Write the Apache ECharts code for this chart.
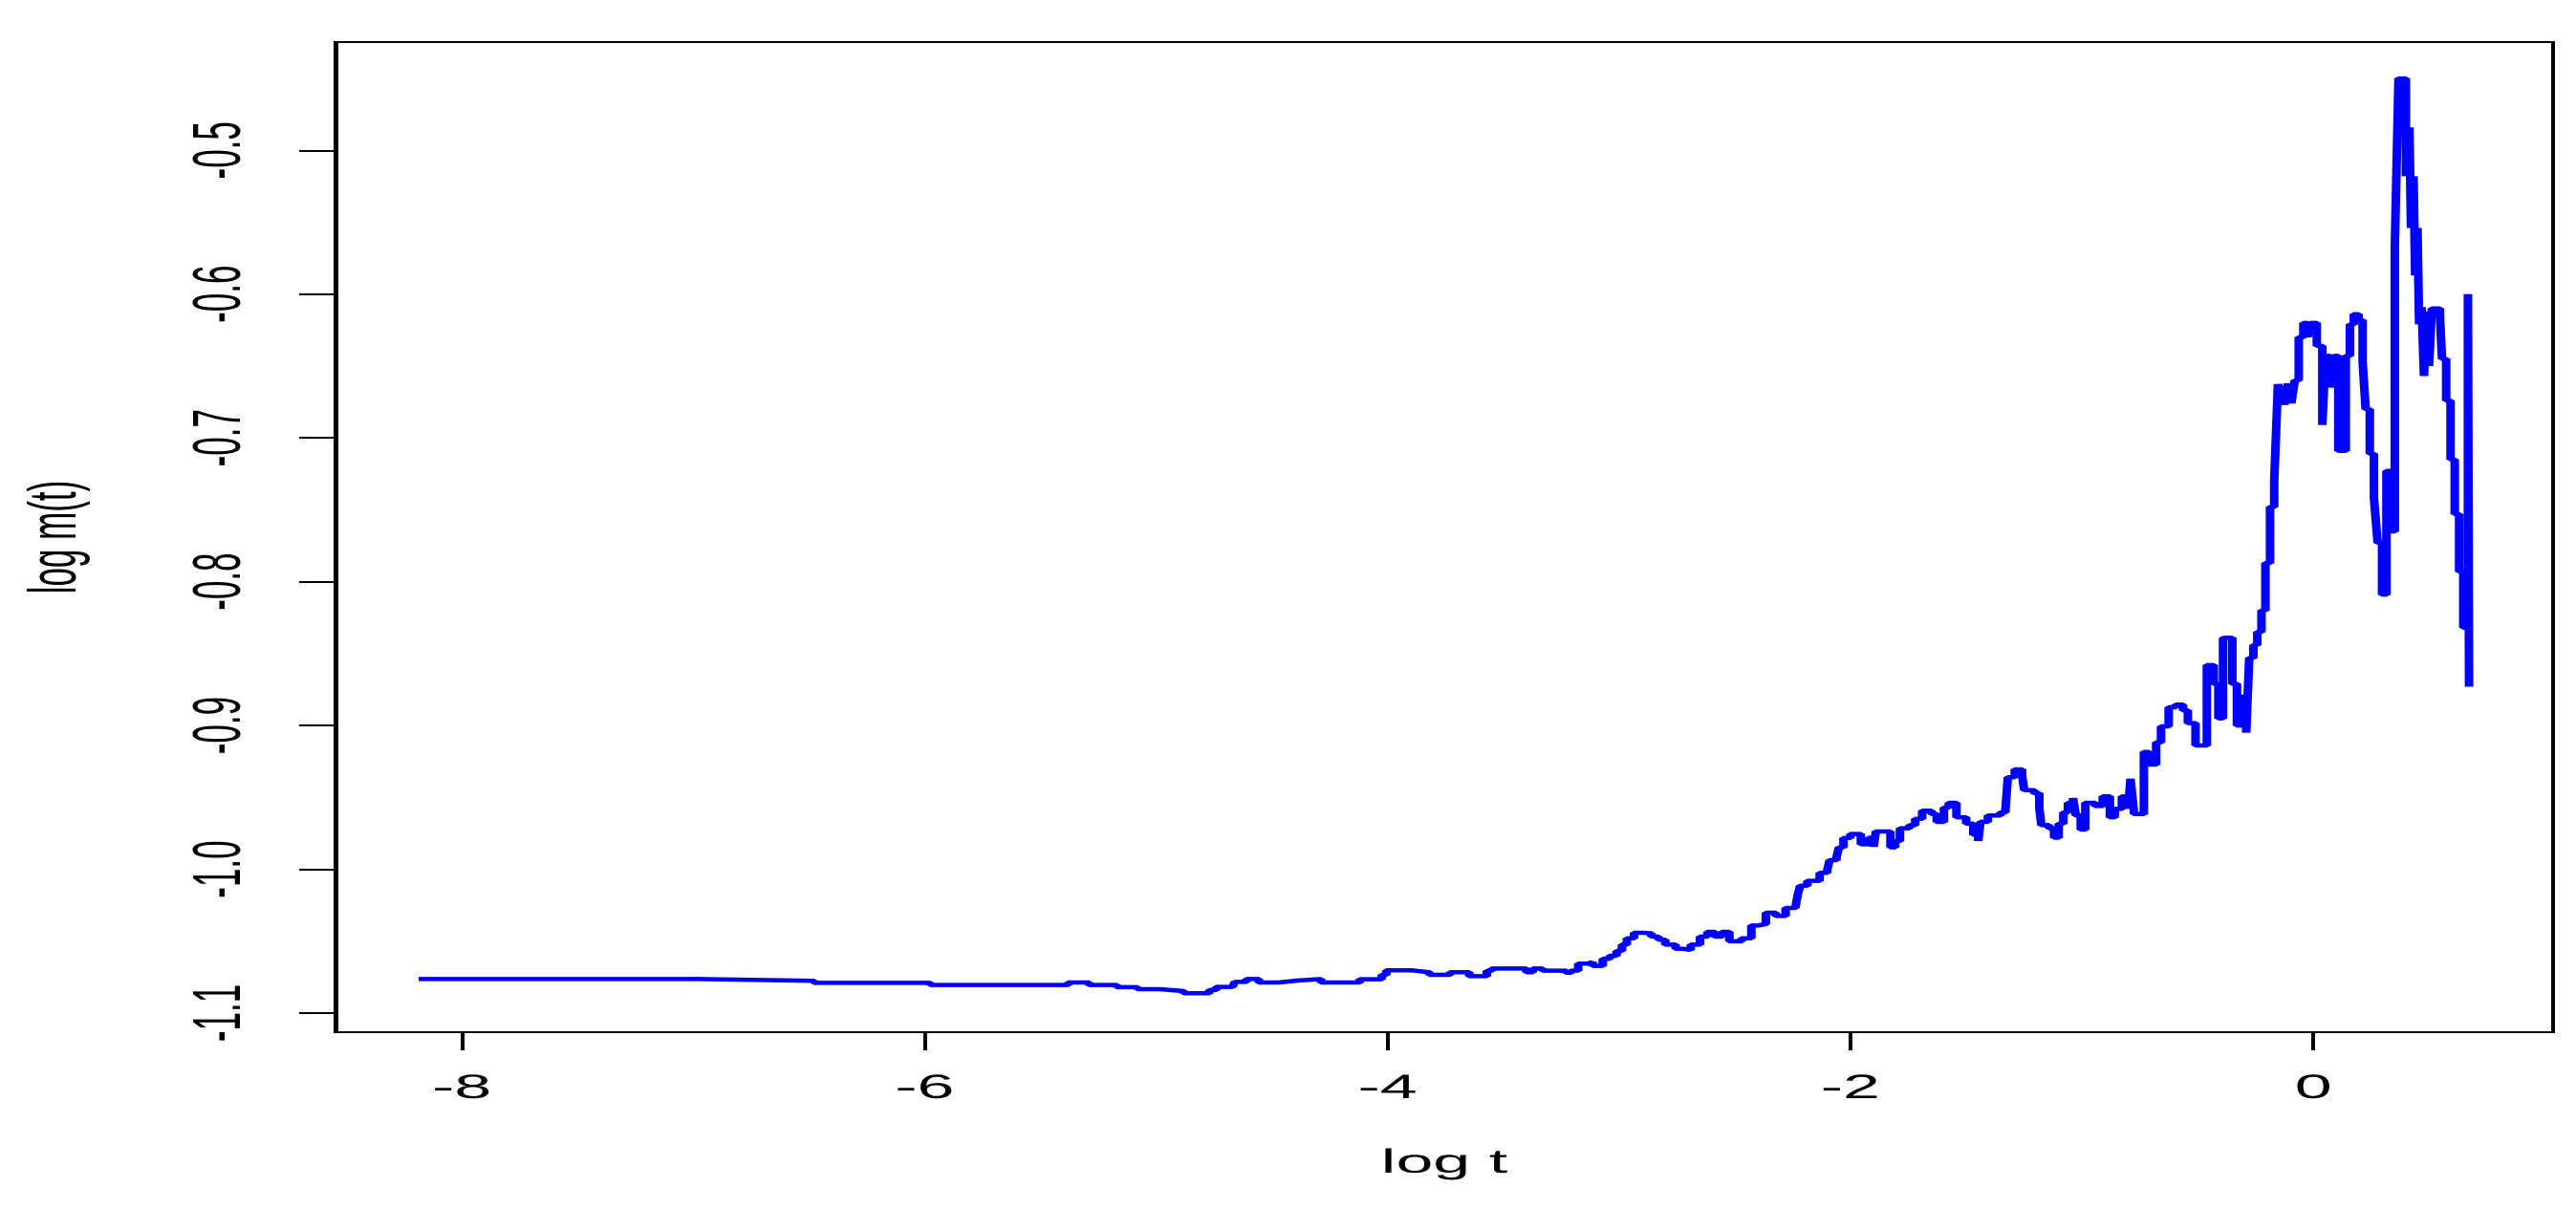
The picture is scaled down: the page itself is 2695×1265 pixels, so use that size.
<!DOCTYPE html>
<html>
<head>
<meta charset="utf-8">
<script src="https://cdn.jsdelivr.net/npm/echarts@6/dist/echarts.min.js"></script>
<style>
  html, body { margin: 0; padding: 0; background: #fff; overflow: hidden; }
  /* the original plot is stretched 2x horizontally, so draw at half width and stretch */
  #main { width: 1347.5px; height: 1265px; transform: scaleX(2); transform-origin: 0 0; }
</style>
</head>
<body>
<div id="main"></div>
<script>
// log t (x) and log m(t) (y)
var logT = [
  -8.186, -6.98, -6.478, -5.975, -5.38, -5.29, -5.17, -5.08, -4.985, -4.88,
  -4.77, -4.74, -4.67, -4.66, -4.61, -4.556, -4.468, -4.39, -4.287, -4.12,
  -4.025, -4.005, -3.894, -3.819, -3.73, -3.647, -3.571, -3.55, -3.40, -3.372,
  -3.33, -3.228, -3.207, -3.176, -3.134, -3.113, -3.07, -3.04, -3.01, -2.987,
  -2.966, -2.935, -2.892, -2.86, -2.829, -2.80, -2.755, -2.724, -2.69, -2.65,
  -2.618, -2.586, -2.555, -2.523, -2.47, -2.428, -2.397, -2.365, -2.323, -2.28,
  -2.238, -2.228, -2.217, -2.186, -2.133, -2.10, -2.09, -2.06, -2.05, -2.03,
  -2.0, -1.955, -1.92, -1.90, -1.89, -1.827, -1.807, -1.786, -1.745, -1.72,
  -1.69, -1.65, -1.627, -1.596, -1.575, -1.542, -1.50, -1.469, -1.448, -1.438,
  -1.406, -1.352, -1.33, -1.32, -1.29, -1.258, -1.249, -1.206, -1.184, -1.175,
  -1.142, -1.12, -1.10, -1.08, -1.06, -1.038, -1.026, -1.005, -0.985, -0.943,
  -0.91, -0.879, -0.858, -0.827, -0.80, -0.79, -0.774, -0.732, -0.71, -0.679,
  -0.658, -0.625, -0.594, -0.563, -0.542, -0.509, -0.46, -0.43, -0.41, -0.39,
  -0.35, -0.33, -0.31, -0.29, -0.277, -0.259, -0.242, -0.224, -0.207, -0.187,
  -0.169, -0.153, -0.138, -0.125, -0.11, -0.095, -0.08, -0.063, -0.043, -0.025,
  -0.012, 0.015, 0.039, 0.052, 0.075, 0.09, 0.108, 0.14, 0.158, 0.175,
  0.196, 0.213, 0.226, 0.244, 0.262, 0.278, 0.297, 0.316, 0.333, 0.352,
  0.368, 0.40, 0.415, 0.422, 0.433, 0.44, 0.45, 0.457, 0.468, 0.478,
  0.49, 0.50, 0.512, 0.547, 0.556, 0.574, 0.593, 0.611, 0.630, 0.648,
  0.668, 0.673
];
var logM = [
  -1.0763, -1.0776, -1.079, -1.0805, -1.0787, -1.0805, -1.082, -1.0834, -1.0847, -1.0862,
  -1.084, -1.0818, -1.0807, -1.0783, -1.0763, -1.0787, -1.0774, -1.0763, -1.0787, -1.0765,
  -1.0734, -1.0703, -1.0716, -1.0734, -1.0716, -1.0743, -1.0707, -1.069, -1.0716, -1.069,
  -1.0705, -1.072, -1.0705, -1.0656, -1.0645, -1.0672, -1.0623, -1.0601, -1.0568, -1.0524,
  -1.048, -1.0442, -1.0446, -1.0468, -1.049, -1.0524, -1.0553, -1.0561, -1.0524, -1.0468,
  -1.0435, -1.0468, -1.0435, -1.0501, -1.048, -1.0391, -1.038, -1.0302, -1.0325, -1.0269,
  -1.0258, -1.018, -1.0114, -1.008, -1.0025, -1.0003, -0.9937, -0.9915, -0.9848, -0.9782,
  -0.9755, -0.9826, -0.978, -0.9844, -0.9737, -0.9848, -0.9804, -0.9715, -0.9693, -0.9649,
  -0.9593, -0.9616, -0.9671, -0.9571, -0.9538, -0.9638, -0.9682, -0.976, -0.9804, -0.967,
  -0.9626, -0.9604, -0.9582, -0.936, -0.9305, -0.935, -0.945, -0.9471, -0.9571, -0.9693,
  -0.9715, -0.978, -0.9682, -0.9604, -0.9538, -0.9504, -0.9626, -0.9724, -0.9538, -0.956,
  -0.9493, -0.9638, -0.958, -0.9493, -0.958, -0.937, -0.9616, -0.9184, -0.9272, -0.9117,
  -0.9006, -0.8873, -0.8855, -0.8895, -0.8984, -0.9139, -0.858, -0.871, -0.895, -0.839,
  -0.871, -0.90, -0.88, -0.905, -0.853, -0.844, -0.835, -0.82, -0.787, -0.748,
  -0.730, -0.6626, -0.670, -0.677, -0.662, -0.676, -0.660, -0.63, -0.62, -0.63,
  -0.62, -0.636, -0.691, -0.643, -0.665, -0.643, -0.709, -0.643, -0.621, -0.614,
  -0.618, -0.647, -0.68, -0.711, -0.742, -0.773, -0.809, -0.723, -0.765, -0.568,
  -0.45, -0.518, -0.484, -0.554, -0.518, -0.587, -0.554, -0.621, -0.609, -0.657,
  -0.612, -0.650, -0.61, -0.615, -0.645, -0.674, -0.715, -0.753, -0.793, -0.832,
  -0.60, -0.873
];
var xTicks = [-8, -6, -4, -2, 0];
var yTicks = [-1.1, -1.0, -0.9, -0.8, -0.7, -0.6, -0.5];

var chartDom = document.getElementById('main');
var myChart = echarts.init(chartDom, null, { renderer: 'canvas', devicePixelRatio: 2 });

var font = 'Liberation Sans, Arial, sans-serif';

var option = {
    backgroundColor: '#ffffff',
    animation: false,
    grid: {
        left: 175.5,
        right: 12.5,
        top: 44,
        bottom: 185,
        show: true,
        borderColor: '#000',
        borderWidth: 2
    },
    xAxis: {
        type: 'value',
        min: -8.5454,
        max: 1.0358,
        name: 'log t',
        nameLocation: 'middle',
        nameGap: 120,
        nameTextStyle: { fontSize: 35, color: '#000', fontFamily: font },
        axisLine: { show: true, onZero: false, lineStyle: { color: '#000', width: 2 } },
        axisTick: { show: true, length: 19, customValues: xTicks, lineStyle: { color: '#000', width: 2 } },
        axisLabel: {
            customValues: xTicks,
            margin: 42,
            fontSize: 35,
            color: '#000',
            fontFamily: font,
            formatter: function (v) { return String(v); }
        },
        splitLine: { show: false }
    },
    yAxis: {
        type: 'value',
        min: -1.1133,
        max: -0.4247,
        name: 'log m(t)',
        nameLocation: 'middle',
        nameRotate: 90,
        nameGap: 128,
        nameTextStyle: { fontSize: 35, color: '#000', fontFamily: font },
        axisLine: { show: true, onZero: false, lineStyle: { color: '#000', width: 2 } },
        axisTick: { show: true, length: 19, customValues: yTicks, lineStyle: { color: '#000', width: 2 } },
        axisLabel: {
            customValues: yTicks,
            rotate: 90,
            margin: 42,
            fontSize: 35,
            color: '#000',
            fontFamily: font,
            formatter: function (v) { return v.toFixed(1); }
        },
        splitLine: { show: false }
    },
    series: [
        {
            type: 'line',
            step: 'end',
            showSymbol: false,
            data: logT.map(function (x, i) { return [x, logM[i]]; }),
            lineStyle: { color: '#0000ff', width: 4.5 }
        }
    ]
};

option && myChart.setOption(option);
</script>
</body>
</html>
